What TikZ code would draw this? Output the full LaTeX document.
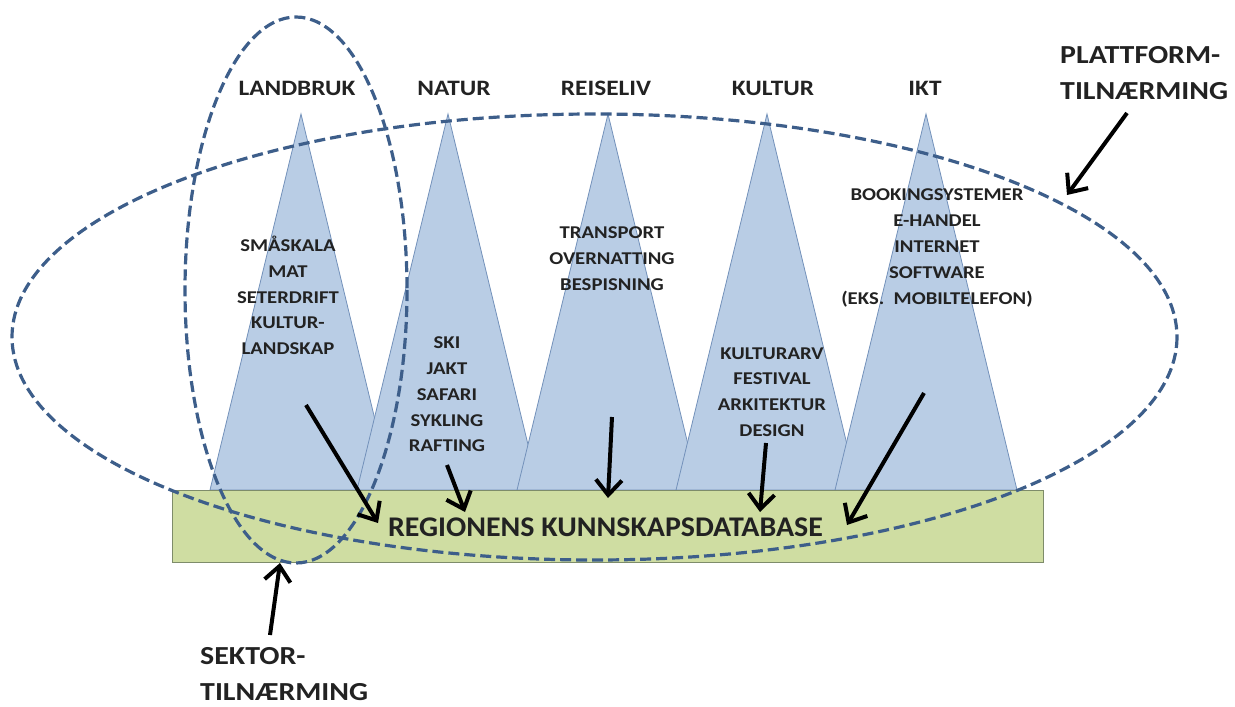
\documentclass[tikz,border=0pt]{standalone}
\usepackage{fontspec}
\setmainfont{Carlito}[FakeStretch=1.15]
\newfontfamily\regfont{Carlito}[FakeStretch=1.05]
\usetikzlibrary{arrows.meta}
\definecolor{tri}{HTML}{B9CDE5}
\definecolor{triedge}{HTML}{7391BA}
\definecolor{dbfill}{HTML}{CFDDA2}
\definecolor{dbedge}{HTML}{7E8C6A}
\definecolor{dashcol}{HTML}{3D5E8A}
\definecolor{txt}{HTML}{222222}
\begin{document}
\begin{tikzpicture}[x=1pt,y=-1pt,
  peak/.style={fill=tri,draw=triedge,line width=0.8pt,line join=miter},
  dbbox/.style={fill=dbfill,draw=dbedge,line width=1pt,minimum width=871pt,minimum height=72pt,inner sep=0pt},
  approach/.style={draw=dashcol,line width=3.2pt,dash pattern=on 11pt off 5pt},
  title/.style={font=\bfseries\fontsize{22}{26}\selectfont,text=txt,inner sep=0pt},
  items/.style={font=\bfseries\fontsize{18}{25.8}\selectfont,text=txt,align=center,inner sep=0pt},
  side/.style={font=\bfseries\fontsize{26}{36}\selectfont,text=txt,align=left,inner sep=0pt,anchor=north west},
  arr/.style={draw=black,line width=4pt,-{Straight Barb[length=15pt,width=26pt]}}]
\useasboundingbox (0,0) rectangle (1235,707);
% peaks
\foreach \x in {301,448,608,767,926}
  \path[peak] (\x-91,490) -- (\x,114) -- (\x+91,490) -- cycle;
% database box
\node[dbbox] (db) at (607.5,526) {};
% dashed ellipses
\draw[approach] (594.5,337) ellipse [x radius=582.5, y radius=223];
\draw[approach] (296,290) ellipse [x radius=111, y radius=273];
% titles
\node[title] (tland) at (297,88) {LANDBRUK};
\node[title] (tnat) at (454,88) {NATUR};
\node[title] (treis) at (606,88) {REISELIV};
\node[title] (tkult) at (773,88) {KULTUR};
\node[title] (tikt) at (925,88) {IKT};
% items
\node[items] (iland) at (288,295.5) {SMÅSKALA\\MAT\\SETERDRIFT\\KULTUR-\\LANDSKAP};
\node[items] (inat) at (447,394.5) {SKI\\JAKT\\SAFARI\\SYKLING\\RAFTING};
\node[items] (ireis) at (612,258.5) {TRANSPORT\\OVERNATTING\\BESPISNING};
\node[items] (ikult) at (772,392) {KULTURARV\\FESTIVAL\\ARKITEKTUR\\DESIGN};
\node[items] (iikt) at (937,248) {BOOKINGSYSTEMER\\E-HANDEL\\INTERNET\\SOFTWARE\\(EKS.\ \ MOBILTELEFON)};
% database label
\node[font=\regfont\bfseries\fontsize{28.5}{32}\selectfont,text=txt,inner sep=0pt] (dblabel) at (605.5,527) {REGIONENS KUNNSKAPSDATABASE};
% side labels
\node[side] (plat) at (1060,46) {PLATTFORM-\\TILNÆRMING};
\node[side] (sekt) at (200,647) {SEKTOR-\\TILNÆRMING};
% arrow coordinates
\coordinate (a1s) at (306,405); \coordinate (a1e) at (378,523);
\coordinate (a2s) at (447,465); \coordinate (a2e) at (465,512);
\coordinate (a3s) at (612,417); \coordinate (a3e) at (608,498);
\coordinate (a4s) at (766,443); \coordinate (a4e) at (760,512);
\coordinate (a5s) at (924,393); \coordinate (a5e) at (847,525);
\coordinate (a6s) at (270,635); \coordinate (a6e) at (280,563);
\coordinate (a7s) at (1127,113); \coordinate (a7e) at (1067,195);
\draw[arr] (a1s) -- (a1e);
\draw[arr] (a2s) -- (a2e);
\draw[arr] (a3s) -- (a3e);
\draw[arr] (a4s) -- (a4e);
\draw[arr] (a5s) -- (a5e);
\draw[arr] (a6s) -- (a6e);
\draw[arr] (a7s) -- (a7e);
\end{tikzpicture}
\end{document}
